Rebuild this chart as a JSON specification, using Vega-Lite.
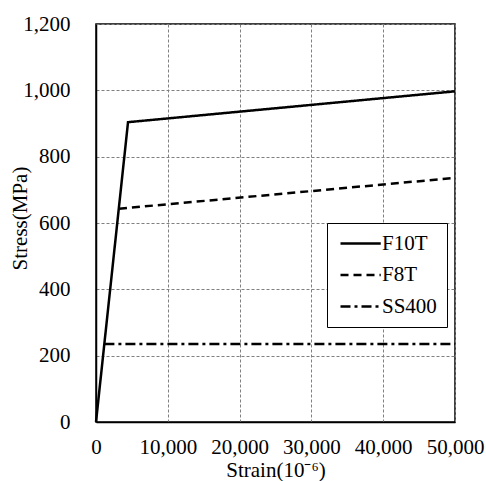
{
  "$schema": "https://vega.github.io/schema/vega-lite/v6.json",
  "width": 359,
  "height": 398,
  "autosize": "none",
  "padding": {"left": 96, "top": 24, "right": 31, "bottom": 59},
  "background": "white",
  "config": {
    "font": "Liberation Serif",
    "view": {"stroke": "black", "strokeWidth": 1.5},
    "axis": {
      "labelFont": "Liberation Serif",
      "labelFontSize": 21,
      "labelColor": "black",
      "titleFont": "Liberation Serif",
      "titleFontSize": 21,
      "titleFontWeight": "normal",
      "titleColor": "black",
      "domainColor": "black",
      "domainWidth": 1.5,
      "ticks": false,
      "tickSize": 0,
      "gridColor": "#808080",
      "gridDash": [3, 2],
      "gridWidth": 1
    },
    "legend": {
      "labelFont": "Liberation Serif",
      "labelFontSize": 21,
      "labelColor": "black"
    }
  },
  "data": {
    "values": [
      {"series": "F10T", "strain": 0, "stress": 0},
      {"series": "F10T", "strain": 4460, "stress": 904},
      {"series": "F10T", "strain": 50000, "stress": 997},
      {"series": "F8T", "strain": 3200, "stress": 643},
      {"series": "F8T", "strain": 50000, "stress": 736},
      {"series": "SS400", "strain": 1170, "stress": 235},
      {"series": "SS400", "strain": 50000, "stress": 235}
    ]
  },
  "mark": {"type": "line", "color": "black", "strokeWidth": 2.5},
  "encoding": {
    "x": {
      "field": "strain",
      "type": "quantitative",
      "scale": {"domain": [0, 50000], "nice": false},
      "axis": {
        "values": [0, 10000, 20000, 30000, 40000, 50000],
        "format": ",d",
        "labelPadding": 14,
        "labelFlush": false,
        "title": "Strain(10⁻⁶)",
        "titleY": 54,
        "titleBaseline": "alphabetic"
      }
    },
    "y": {
      "field": "stress",
      "type": "quantitative",
      "scale": {"domain": [0, 1200], "nice": false},
      "axis": {
        "values": [0, 200, 400, 600, 800, 1000, 1200],
        "format": ",d",
        "labelPadding": 26,
        "labelFlush": false,
        "title": "Stress(MPa)",
        "titleAngle": -90,
        "titleX": -70,
        "titleY": 194,
        "titleAlign": "center",
        "titleBaseline": "alphabetic"
      }
    },
    "strokeDash": {
      "field": "series",
      "type": "nominal",
      "scale": {
        "domain": ["F10T", "F8T", "SS400"],
        "range": [[1, 0], [8, 5], [10, 4, 3, 4]]
      },
      "legend": {
        "title": null,
        "orient": "none",
        "legendX": 231,
        "legendY": 199,
        "symbolType": "M-1,0H4.75",
        "symbolSize": 196,
        "symbolStrokeColor": "black",
        "symbolStrokeWidth": 2.5,
        "strokeColor": "black",
        "fillColor": "white",
        "padding": 10,
        "rowPadding": 9.5,
        "labelOffset": 24,
        "labelExpr": "datum.label + '\u00a0'"
      }
    }
  }
}
